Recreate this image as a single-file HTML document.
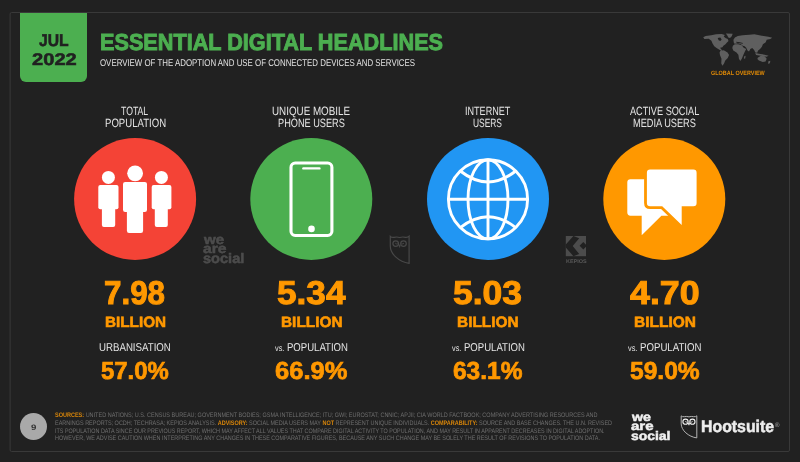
<!DOCTYPE html>
<html lang="en">
<head>
<meta charset="utf-8">
<title>Essential Digital Headlines – July 2022</title>
<style>
*{box-sizing:border-box;margin:0;padding:0}
html,body{width:800px;height:462px;overflow:hidden;background:#212121}
body{position:relative;font-family:"Liberation Sans",sans-serif;}
.date{position:absolute;left:20px;top:13px;width:67.2px;height:69px;background:#4CAF50;border-radius:0 0 6px 6px}
.t{position:absolute;white-space:nowrap;line-height:1;transform-origin:0 0;font-weight:400;text-rendering:geometricPrecision}
.t b{color:#D98609;font-weight:700}
svg{position:absolute;left:0;top:0;overflow:visible}
.pgc{position:absolute;left:20px;top:413.2px;width:27.2px;height:27.2px;border-radius:50%;background:#a9a9a9}
</style>
</head>
<body>
<svg class="frame-svg" width="800" height="462" viewBox="0 0 800 462" aria-hidden="true"><rect x="10.1" y="12.5" width="779.4" height="439" rx="1.5" fill="none" stroke="#393939" stroke-width="1"/></svg>

<header>
  <div class="date"></div>
  <span class="t" id="t-jul" style="left:39.10px;top:33.31px;font-size:16.94px;transform:scaleX(0.9285);color:#212121;font-weight:700;-webkit-text-stroke-width:0.03em;">JUL</span>
  <span class="t" id="t-yr" style="left:31.80px;top:52.39px;font-size:16.85px;transform:scaleX(1.1952);color:#212121;font-weight:700;-webkit-text-stroke-width:0.03em;">2022</span>
  <h1><span class="t" id="t-title" style="left:100.32px;top:30.69px;font-size:23.15px;transform:scaleX(0.9362);color:#4CAF50;font-weight:700;-webkit-text-stroke-width:0.04em;">ESSENTIAL DIGITAL HEADLINES</span></h1>
  <p><span class="t" id="t-sub" style="left:99.70px;top:58.72px;font-size:9.86px;transform:scaleX(0.7999);color:#e0e0e0;">OVERVIEW OF THE ADOPTION AND USE OF CONNECTED DEVICES AND SERVICES</span></p>
  <svg width="800" height="462" viewBox="0 0 800 462" aria-hidden="true">
    <g transform="translate(700 30) scale(0.095)" fill="#5f5f5f">
      <!-- world map -->
      <path d="M34 76 L60 62 L118 56 L170 46 L228 42 L262 52 L250 68 L268 84 L292 96 L300 116 L284 132 L268 150 L246 166 L236 182 L212 186 L222 202 L238 216 L226 220 L196 202 L174 190 L150 170 L132 142 L120 112 L92 92 L46 96 Z"/>
      <path d="M272 36 L344 40 L334 66 L316 84 L298 80 L286 56 Z"/>
      <path d="M214 222 L250 214 L290 238 L306 264 L292 296 L266 322 L252 356 L236 376 L224 352 L226 302 L210 262 L206 236 Z"/>
      <path d="M346 166 L366 150 L402 150 L440 160 L460 186 L486 200 L470 232 L456 262 L440 302 L424 326 L410 302 L404 260 L384 236 L350 216 L340 190 Z"/>
      <path d="M352 102 L368 78 L398 62 L448 56 L520 50 L572 46 L650 60 L720 70 L760 82 L740 96 L702 102 L692 130 L662 150 L652 176 L632 200 L612 216 L602 240 L582 236 L570 210 L550 190 L530 200 L516 226 L500 216 L486 186 L470 170 L450 166 L430 150 L400 140 L380 146 L358 142 L354 122 Z"/>
      <path d="M466 276 L480 270 L476 300 L462 302 Z"/>
      <path d="M582 242 L620 250 L680 260 L722 270 L700 282 L640 272 L590 262 Z"/>
      <path d="M608 292 L640 270 L680 276 L702 302 L690 332 L660 336 L620 320 L604 306 Z"/>
      <path d="M720 330 L740 324 L736 350 L716 356 Z"/>
      <g fill="#212121">
        <path d="M186 84 L214 80 L228 100 L214 116 L196 108 Z"/>
        <path d="M380 124 L420 128 L452 138 L448 146 L416 140 L384 134 Z"/>
      </g>
    </g>
  </svg>
  <span class="t" id="t-glob" style="left:710.86px;top:70.97px;font-size:6.23px;transform:scaleX(0.8768);color:#E08A06;font-weight:700;">GLOBAL OVERVIEW</span>
</header>

<main>
  <section>
    <h2><span class="t" id="t-l0a" style="left:121.26px;top:104.60px;font-size:12.03px;transform:scaleX(0.7234);color:#e4e4e4;">TOTAL</span><span class="t" id="t-l0b" style="left:104.84px;top:116.80px;font-size:12.03px;transform:scaleX(0.7992);color:#e4e4e4;">POPULATION</span></h2>
    <svg width="800" height="462" viewBox="0 0 800 462" aria-hidden="true">
      <circle cx="135.1" cy="199" r="61" fill="#F44336"/>
      <g fill="#fff">
        <circle cx="108.4" cy="177.4" r="6.5"/>
        <rect x="98.3" y="185" width="20.2" height="24.3" rx="2"/>
        <rect x="101.9" y="200" width="13.3" height="27.1" rx="2"/>
        <circle cx="161.4" cy="177.4" r="6.5"/>
        <rect x="151.7" y="185" width="19.7" height="24.3" rx="2"/>
        <rect x="154.8" y="200" width="13" height="27.1" rx="2"/>
        <circle cx="135.1" cy="173.3" r="7.9"/>
        <rect x="123" y="181.9" width="24" height="30" rx="2.2"/>
        <rect x="126.9" y="200" width="16.2" height="33" rx="2.2"/>
      </g>
    </svg>
    <span class="t" id="t-n0" style="left:104.42px;top:277.06px;font-size:32.92px;transform:scaleX(0.9521);color:#FF9800;font-weight:700;-webkit-text-stroke-width:0.03em;">7.98</span><span class="t" id="t-b0" style="left:104.71px;top:316.06px;font-size:14.93px;transform:scaleX(1.0243);color:#FF9800;font-weight:700;-webkit-text-stroke-width:0.04em;">BILLION</span><span class="t" id="t-s0" style="left:98.97px;top:342.78px;font-size:11.45px;transform:scaleX(0.8458);color:#e4e4e4;">URBANISATION</span><span class="t" id="t-p0" style="left:101.34px;top:359.78px;font-size:24.58px;transform:scaleX(0.9728);color:#FF9800;font-weight:700;-webkit-text-stroke-width:0.03em;">57.0%</span>
  </section>
  <section>
    <h2><span class="t" id="t-l1a" style="left:272.43px;top:104.60px;font-size:12.03px;transform:scaleX(0.8175);color:#e4e4e4;">UNIQUE MOBILE</span><span class="t" id="t-l1b" style="left:277.91px;top:116.80px;font-size:12.03px;transform:scaleX(0.7645);color:#e4e4e4;">PHONE USERS</span></h2>
    <svg width="800" height="462" viewBox="0 0 800 462" aria-hidden="true">
      <circle cx="311.3" cy="199" r="61" fill="#4CAF50"/>
      <rect x="291" y="163" width="40.9" height="72.5" rx="4.2" fill="none" stroke="#fff" stroke-width="3.1"/>
      <rect x="302.2" y="167.2" width="18.4" height="2.4" rx="1.2" fill="#fff"/>
      <circle cx="311.5" cy="228.9" r="3.3" fill="#fff"/>
    </svg>
    <span class="t" id="t-n1" style="left:277.17px;top:277.06px;font-size:32.92px;transform:scaleX(1.0696);color:#FF9800;font-weight:700;-webkit-text-stroke-width:0.03em;">5.34</span><span class="t" id="t-b1" style="left:280.91px;top:316.06px;font-size:14.93px;transform:scaleX(1.0311);color:#FF9800;font-weight:700;-webkit-text-stroke-width:0.04em;">BILLION</span><span class="t" id="t-s1" style="left:275.45px;top:342.78px;font-size:11.45px;transform:scaleX(0.8369);color:#e4e4e4;"><span style="font-size:.76em">vs.</span> POPULATION</span><span class="t" id="t-p1" style="left:274.99px;top:359.78px;font-size:24.58px;transform:scaleX(1.0383);color:#FF9800;font-weight:700;-webkit-text-stroke-width:0.03em;">66.9%</span>
  </section>
  <section>
    <h2><span class="t" id="t-l2a" style="left:464.87px;top:104.60px;font-size:12.03px;transform:scaleX(0.7539);color:#e4e4e4;">INTERNET</span><span class="t" id="t-l2b" style="left:473.34px;top:116.80px;font-size:12.03px;transform:scaleX(0.7001);color:#e4e4e4;">USERS</span></h2>
    <svg width="800" height="462" viewBox="0 0 800 462" aria-hidden="true">
      <circle cx="488" cy="199" r="61" fill="#2196F3"/>
      <g fill="none" stroke="#fff" stroke-width="2.9">
        <circle cx="488" cy="199.3" r="39.6"/>
        <ellipse cx="488" cy="199.3" rx="20" ry="39.6"/>
        <path d="M488 159.7 V238.9 M448.4 199.3 H527.6"/>
        <path d="M460.3 171 Q488 192.8 515.7 171"/>
        <path d="M460.3 227.6 Q488 205.8 515.7 227.6"/>
      </g>
    </svg>
    <span class="t" id="t-n2" style="left:453.29px;top:277.06px;font-size:32.92px;transform:scaleX(1.0768);color:#FF9800;font-weight:700;-webkit-text-stroke-width:0.03em;">5.03</span><span class="t" id="t-b2" style="left:457.21px;top:316.06px;font-size:14.93px;transform:scaleX(1.0328);color:#FF9800;font-weight:700;-webkit-text-stroke-width:0.04em;">BILLION</span><span class="t" id="t-s2" style="left:451.70px;top:342.78px;font-size:11.45px;transform:scaleX(0.8369);color:#e4e4e4;"><span style="font-size:.76em">vs.</span> POPULATION</span><span class="t" id="t-p2" style="left:453.01px;top:359.78px;font-size:24.58px;transform:scaleX(0.9963);color:#FF9800;font-weight:700;-webkit-text-stroke-width:0.03em;">63.1%</span>
  </section>
  <section>
    <h2><span class="t" id="t-l3a" style="left:630.02px;top:104.60px;font-size:12.03px;transform:scaleX(0.7623);color:#e4e4e4;">ACTIVE SOCIAL</span><span class="t" id="t-l3b" style="left:633.16px;top:116.80px;font-size:12.03px;transform:scaleX(0.7644);color:#e4e4e4;">MEDIA USERS</span></h2>
    <svg width="800" height="462" viewBox="0 0 800 462" aria-hidden="true">
      <circle cx="664.3" cy="199" r="61" fill="#FF9800"/>
      <path d="M630.4 179.3 H675 V215.7 H661.4 L641.7 235.3 V215.7 H630.4 Q627.3 215.7 627.3 212.6 V182.4 Q627.3 179.3 630.4 179.3 Z" fill="#fff"/>
      <path d="M650.1 169.6 H693.4 Q696.6 169.6 696.6 172.8 V203.1 Q696.6 206.3 693.4 206.3 H681.7 V225 L662.2 206.3 H650.1 Q646.9 206.3 646.9 203.1 V172.8 Q646.9 169.6 650.1 169.6 Z" fill="#fff" stroke="#FF9800" stroke-width="5.6" stroke-linejoin="round" paint-order="stroke"/>
    </svg>
    <span class="t" id="t-n3" style="left:629.70px;top:277.06px;font-size:32.92px;transform:scaleX(1.0870);color:#FF9800;font-weight:700;-webkit-text-stroke-width:0.03em;">4.70</span><span class="t" id="t-b3" style="left:633.56px;top:316.06px;font-size:14.93px;transform:scaleX(1.0380);color:#FF9800;font-weight:700;-webkit-text-stroke-width:0.04em;">BILLION</span><span class="t" id="t-s3" style="left:627.95px;top:342.78px;font-size:11.45px;transform:scaleX(0.8427);color:#e4e4e4;"><span style="font-size:.76em">vs.</span> POPULATION</span><span class="t" id="t-p3" style="left:629.63px;top:359.78px;font-size:24.58px;transform:scaleX(1.0003);color:#FF9800;font-weight:700;-webkit-text-stroke-width:0.03em;">59.0%</span>
  </section>

  <aside>
    <span class="t" id="t-m1" style="left:203.66px;top:233.43px;font-size:13.33px;transform:scaleX(1.1333);color:#4c4c4c;font-weight:700;-webkit-text-stroke-width:0.04em;">we</span><span class="t" id="t-m2" style="left:202.87px;top:241.88px;font-size:13.51px;transform:scaleX(1.1604);color:#4c4c4c;font-weight:700;-webkit-text-stroke-width:0.04em;">are</span><span class="t" id="t-m3" style="left:203.03px;top:252.48px;font-size:13.86px;transform:scaleX(1.0504);color:#4c4c4c;font-weight:700;-webkit-text-stroke-width:0.04em;">social</span>
    <svg width="800" height="462" viewBox="0 0 800 462" aria-hidden="true">
      <!-- owl watermark -->
      <g fill="none" stroke="#484848" stroke-width="1.2">
        <path d="M390.3 236.3 Q391.6 237.6 394 237.3 Q397 236.6 399.7 237.5 Q402.4 236.6 405.4 237.3 Q407.8 237.6 409.1 236.2 V263.4 C399 262 390.3 254 390.3 246 Z"/>
        <circle cx="395.7" cy="243.6" r="2.8"/>
        <circle cx="403.5" cy="243.6" r="2.8"/>
        <path d="M395.2 243.1 Q396.4 244.6 397.6 243.4 M404 243.1 Q402.8 244.6 401.6 243.4" stroke-width="0.9"/>
        <path d="M399 245 L399.6 247.4 L400.2 245 Z" fill="#484848" stroke-width="0.8"/>
      </g>
      <!-- kepios watermark -->
      <g>
        <rect x="565.8" y="236" width="20.2" height="20.2" fill="#4c4c4c"/>
        <path d="M573.4 236 L579.2 238.2 L572.7 245.9 L579.2 254 L573.4 256.2 L565.8 247.4 V244.4 Z" fill="#212121"/>
        <path d="M583.3 242 L587 245.7 L583.3 249.5 L579.6 245.7 Z" fill="#212121"/>
      </g>
    </svg>
    <span class="t" id="t-kep" style="left:565.50px;top:259.80px;font-size:5.36px;transform:scaleX(1.0250);color:#585858;font-weight:700;">KEPIOS</span>
  </aside>
</main>

<footer>
  <div class="pgc"></div>
  <span class="t" id="t-pg" style="left:30.83px;top:424.30px;font-size:7.89px;transform:scaleX(1.2286);color:#333;font-weight:700;">9</span>
  <p><span class="t" id="t-f0" style="left:54.71px;top:413.22px;font-size:6.52px;transform:scaleX(0.8458);color:#6e6e6e;"><b>SOURCES:</b> UNITED NATIONS; U.S. CENSUS BUREAU; GOVERNMENT BODIES; GSMA INTELLIGENCE; ITU; GWI; EUROSTAT; CNNIC; APJII; CIA WORLD FACTBOOK; COMPANY ADVERTISING RESOURCES AND</span><span class="t" id="t-f1" style="left:54.51px;top:421.12px;font-size:6.52px;transform:scaleX(0.8415);color:#6e6e6e;">EARNINGS REPORTS; OCDH; TECHRASA; KEPIOS ANALYSIS. <b>ADVISORY:</b> SOCIAL MEDIA USERS MAY <b>NOT</b> REPRESENT UNIQUE INDIVIDUALS. <b>COMPARABILITY:</b> SOURCE AND BASE CHANGES. THE U.N. REVISED</span><span class="t" id="t-f2" style="left:54.58px;top:428.82px;font-size:6.52px;transform:scaleX(0.8308);color:#6e6e6e;">ITS POPULATION DATA SINCE OUR PREVIOUS REPORT, WHICH MAY AFFECT ALL VALUES THAT COMPARE DIGITAL ACTIVITY TO POPULATION, AND MAY RESULT IN APPARENT DECREASES IN DIGITAL ADOPTION.</span><span class="t" id="t-f3" style="left:54.52px;top:436.42px;font-size:6.52px;transform:scaleX(0.8365);color:#6e6e6e;">HOWEVER, WE ADVISE CAUTION WHEN INTERPRETING ANY CHANGES IN THESE COMPARATIVE FIGURES, BECAUSE ANY SUCH CHANGE MAY BE SOLELY THE RESULT OF REVISIONS TO POPULATION DATA.</span></p>
  <span class="t" id="t-w1" style="left:632.08px;top:411.94px;font-size:11.93px;transform:scaleX(1.1899);color:#f0f0f0;font-weight:700;-webkit-text-stroke-width:0.04em;">we</span><span class="t" id="t-w2" style="left:630.99px;top:420.19px;font-size:12.11px;transform:scaleX(1.2391);color:#f0f0f0;font-weight:700;-webkit-text-stroke-width:0.04em;">are</span><span class="t" id="t-w3" style="left:631.37px;top:430.44px;font-size:12.28px;transform:scaleX(1.1356);color:#f0f0f0;font-weight:700;-webkit-text-stroke-width:0.04em;">social</span>
  <svg width="800" height="462" viewBox="0 0 800 462" aria-hidden="true">
    <g fill="none" stroke="#b4b4b4" stroke-width="1">
      <path d="M681.2 415.9 Q682.3 417 684.3 416.7 Q686.7 416.1 689 416.9 Q691.2 416.1 693.7 416.7 Q695.7 417 696.8 415.8 V437.9 C688.5 436.8 681.2 430.3 681.2 423.8 Z"/>
      <g stroke="#f2f2f2" stroke-width="1.1">
        <circle cx="685.5" cy="421.7" r="2.6"/>
        <circle cx="692.4" cy="421.7" r="2.6"/>
        <path d="M685.3 421.4 Q686.3 422.7 687.3 421.7 M692.6 421.4 Q691.6 422.7 690.6 421.7" stroke-width="0.8"/>
        <path d="M688.4 423 L688.95 425.2 L689.5 423 Z" fill="#f2f2f2" stroke-width="0.7"/>
      </g>
    </g>
  </svg>
  <span class="t" id="t-hoot" style="left:700.93px;top:418.53px;font-size:16.81px;transform:scaleX(0.9439);color:#ededed;font-weight:700;-webkit-text-stroke-width:0.03em;">Hootsuite</span><span class="t" id="t-reg" style="left:774.57px;top:423.21px;font-size:6.40px;transform:scaleX(0.9567);color:#b0b0b0;">®</span>
</footer>
</body>
</html>
